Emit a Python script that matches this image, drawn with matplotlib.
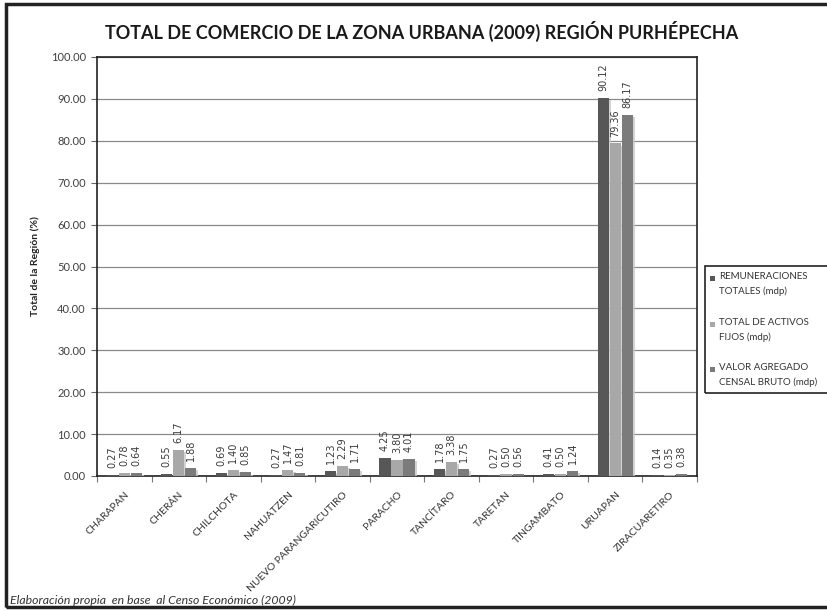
import matplotlib
matplotlib.use("Agg")
import matplotlib.pyplot as plt
import numpy as np
from matplotlib.patches import Rectangle
from matplotlib import patheffects as pe

categories = ["CHARAPAN", "CHERÁN", "CHILCHOTA", "NAHUATZEN", "NUEVO PARANGARICUTIRO",
              "PARACHO", "TANCÍTARO", "TARETAN", "TINGAMBATO", "URUAPAN", "ZIRACUARETIRO"]
remuneraciones = [0.27, 0.55, 0.69, 0.27, 1.23, 4.25, 1.78, 0.27, 0.41, 90.12, 0.14]
activos_fijos = [0.78, 6.17, 1.40, 1.47, 2.29, 3.80, 3.38, 0.50, 0.50, 79.36, 0.35]
valor_agregado = [0.64, 1.88, 0.85, 0.81, 1.71, 4.01, 1.75, 0.56, 1.24, 86.17, 0.38]
series_names = ["REMUNERACIONES\nTOTALES (mdp)", "TOTAL DE ACTIVOS\nFIJOS (mdp)",
                "VALOR AGREGADO\nCENSAL BRUTO (mdp)"]
series = [remuneraciones, activos_fijos, valor_agregado]
colors = ["#575757", "#a8a8a8", "#7b7b7b"]
yticks = np.arange(0, 101, 10)

W, H = 828, 611
fig = plt.figure(figsize=(W / 100, H / 100), dpi=100)
fig.patch.set_facecolor("white")

ax = fig.add_axes([97 / W, 1 - 476 / H, 600 / W, 419 / H])
x = np.arange(len(categories))
bw = 0.205
offs = [-0.22, 0.0, 0.22]
shadow = [pe.SimplePatchShadow(offset=(1.5, -1.5), shadow_rgbFace="#c8c8c8", alpha=0.8), pe.Normal()]
for vals, off, c, name in zip(series, offs, colors, series_names):
    bars = ax.bar(x + off, vals, width=bw, color=c, label=name, zorder=3)
    for b in bars:
        b.set_path_effects(shadow)
    for xi, v in zip(x, vals):
        ax.annotate(f"{v:.2f}", xy=(xi + off, v), xytext=(0, 5), textcoords="offset points",
                    rotation=90, ha="center", va="bottom", fontsize=7, color="#3a3a3a",
                    family="DejaVu Sans")

ax.set_xlim(-0.5, len(categories) - 0.5)
ax.set_ylim(0, 100)
ax.set_yticks(yticks)
ax.set_yticklabels([f"{t:.2f}" for t in yticks], fontsize=8, color="#404040", family="Lato")
ax.yaxis.grid(True, color="#8a8a8a", linewidth=0.9, zorder=0)
ax.set_axisbelow(True)
ax.tick_params(axis="y", length=4, width=0.8, color="#666666", pad=4)

ax.set_xticks(x)
ax.set_xticklabels(categories, rotation=45, ha="right", rotation_mode="anchor",
                   fontsize=7.5, color="#333333", family="Lato")
ax.tick_params(axis="x", which="major", length=0, pad=10)
ax.set_xticks(np.arange(-0.5, len(categories) + 0.5, 1), minor=True)
ax.tick_params(axis="x", which="minor", length=4, width=0.8, color="#777777")

for s in ax.spines.values():
    s.set_color("#222222")
    s.set_linewidth(1.2)

ax.set_ylabel("Total de la Región (%)", fontsize=7.5, fontweight="bold", family="Lato",
              color="#222222")
ax.yaxis.set_label_coords((40 - 97) / 600, 0.5)

fig.text(422 / W, 1 - 31 / H, "TOTAL DE COMERCIO DE LA ZONA URBANA (2009) REGIÓN PURHÉPECHA",
         ha="center", va="center", fontsize=13, fontweight="bold",
         family="Lato", color="#1a1a1a")

fig.text(10 / W, 1 - 600 / H, "Elaboración propia  en base  al Censo Económico (2009)",
         ha="left", va="center", fontsize=8.8, style="italic", family="Lato", color="#333333")

# legend (framed box with square keys, first line aligned to key)
lx0, ly0, ly1 = 705, 266, 393
fig.add_artist(Rectangle((lx0 / W, 1 - ly1 / H), (W + 10 - lx0) / W, (ly1 - ly0) / H,
                         transform=fig.transFigure, fill=False, edgecolor="#222222",
                         linewidth=1.2))
entry_y = [278, 324, 369]
for name, c, ey in zip(series_names, colors, entry_y):
    fig.add_artist(Rectangle((710 / W, 1 - (ey + 2.5) / H), 5 / W, 5 / H,
                             transform=fig.transFigure, facecolor=c, edgecolor="none"))
    fig.text(719 / W, 1 - (ey - 6) / H, name, ha="left", va="top", fontsize=7,
             family="Lato", color="#333333", linespacing=1.75)

fig.add_artist(Rectangle((6 / W, 1 - 607 / H), 830 / W, 603 / H, transform=fig.transFigure,
                         fill=False, edgecolor="#222222", linewidth=2.5))

fig.savefig("out.png", dpi=100)
